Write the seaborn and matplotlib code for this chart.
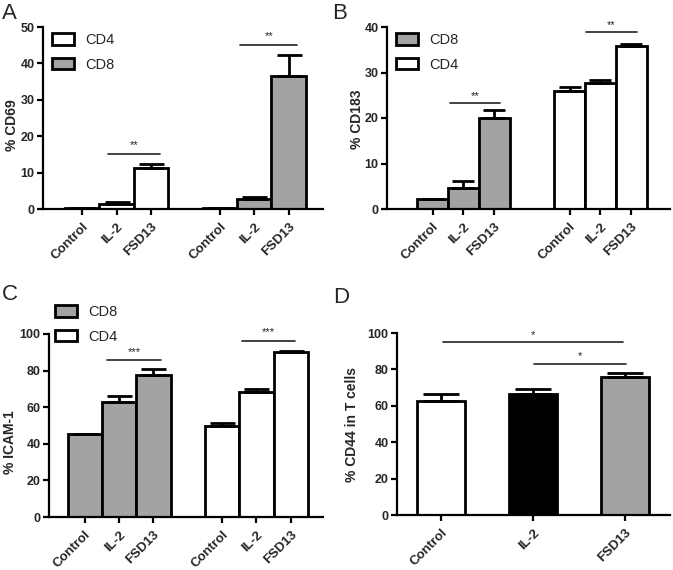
import numpy as np
import pandas as pd
import matplotlib
matplotlib.use("Agg")
import matplotlib.pyplot as plt
from matplotlib.patches import Patch
import seaborn as sns

treatments = ["Control", "IL-2", "FSD13"]

# A: % CD69 (mean, SEM)
cd69_cd4 = [0.3, 1.5, 11.2]
cd69_cd4_err = [0.1, 0.4, 1.2]
cd69_cd8 = [0.2, 2.8, 36.5]
cd69_cd8_err = [0.1, 0.4, 5.8]

# B: % CD183
cd183_cd8 = [2.2, 4.7, 20.0]
cd183_cd8_err = [0.1, 1.5, 1.7]
cd183_cd4 = [25.9, 27.6, 35.8]
cd183_cd4_err = [0.9, 0.8, 0.5]

# C: % ICAM-1
icam_cd8 = [45.2, 63.0, 77.5]
icam_cd8_err = [0.3, 3.3, 3.4]
icam_cd4 = [49.6, 68.5, 90.0]
icam_cd4_err = [2.0, 1.4, 0.9]

# D: % CD44 in T cells
cd44 = [62.7, 66.7, 75.9]
cd44_err = [4.0, 2.6, 2.1]

WHITE, GREY, BLACK = "#ffffff", "#a3a3a3", "#000000"
W, H = 673, 570

sns.set_style("ticks")
plt.rcParams["font.family"] = ["Liberation Sans", "DejaVu Sans"]

fig = plt.figure(figsize=(W / 100, H / 100), dpi=100)


def px_axes(left, top, right, bottom):
    return fig.add_axes([left / W, 1 - bottom / H, (right - left) / W, (bottom - top) / H])


def style_axes(ax, ylim, yticks, ylabel, label_xy):
    sns.despine(ax=ax)
    for s in ["left", "bottom"]:
        ax.spines[s].set_linewidth(1.6)
        ax.spines[s].set_color("black")
    ax.tick_params(width=1.6, length=4, color="black", labelsize=9, pad=2)
    ax.tick_params(axis="x", labelsize=9.5, pad=4.5)
    ax.set_ylim(*ylim)
    ax.set_yticks(yticks)
    for t in ax.get_yticklabels():
        t.set_fontweight("bold")
    ax.set_ylabel(ylabel, fontsize=10, fontweight="bold")
    ax.yaxis.set_label_coords(*label_xy)
    ax.set_xlabel("")


def grouped(ax, pos, v1, e1, n1, c1, v2, e2, n2, c2, capsize):
    df = pd.DataFrame({
        "pos": pos,
        "value": v1 + v2,
        "err": e1 + e2,
        "cell": [n1] * 3 + [n2] * 3,
    })
    sns.barplot(data=df, x="pos", y="value", hue="cell", palette={n1: c1, n2: c2},
                native_scale=True, width=1, dodge=False, errorbar=None,
                edgecolor="black", linewidth=2, legend=False, ax=ax, zorder=2)
    ax.errorbar(df["pos"], df["value"], yerr=[np.zeros(len(df)), df["err"]], fmt="none",
                ecolor="black", elinewidth=2, capsize=capsize, capthick=2, zorder=3)
    ax.set_xticks(pos)
    ax.set_xticklabels(treatments * 2, rotation=45, ha="right", rotation_mode="anchor",
                       fontweight="bold")
    handles = [Patch(facecolor=c1, edgecolor="black", linewidth=2, label=n1),
               Patch(facecolor=c2, edgecolor="black", linewidth=2, label=n2)]
    return handles


def sig(ax, x1, x2, y, ty, stars):
    ax.plot([x1, x2], [y, y], color="#222222", lw=1.2, clip_on=False)
    ax.text((x1 + x2) / 2, ty, stars, ha="center", va="center", fontsize=8,
            color="#222222", clip_on=False)


def legend(ax, handles, x, y):
    ax.legend(handles=handles, loc="upper left", bbox_to_anchor=(x / W, 1 - y / H),
              bbox_transform=fig.transFigure, frameon=False, borderaxespad=0, borderpad=0,
              handlelength=1.5, handleheight=0.8, handletextpad=0.8, labelspacing=0.75,
              fontsize=10.5)


# ---- A
axA = px_axes(43, 27, 323, 209)
posA = [0, 1, 2, 4, 5, 6]
h = grouped(axA, posA, cd69_cd4, cd69_cd4_err, "CD4", WHITE,
            cd69_cd8, cd69_cd8_err, "CD8", GREY, 9)
axA.set_xlim(-1.14, 7.0)
style_axes(axA, (0, 50), range(0, 51, 10), "% CD69", (-0.084, 0.46))
legend(axA, h, 52, 33)
sig(axA, 0.75, 2.25, 15.1, 17.5, "**")
sig(axA, 4.6, 6.25, 45.1, 47.5, "**")

# ---- B
axB = px_axes(387, 27, 670, 209)
posB = [0, 1, 2, 4.45, 5.45, 6.45]
h = grouped(axB, posB, cd183_cd8, cd183_cd8_err, "CD8", GREY,
            cd183_cd4, cd183_cd4_err, "CD4", WHITE, 8)
axB.set_xlim(-1.48, 7.71)
style_axes(axB, (0, 40), range(0, 41, 10), "% CD183", (-0.081, 0.495))
legend(axB, h, 396, 33)
sig(axB, 0.55, 2.19, 23.4, 24.9, "**")
sig(axB, 4.98, 6.63, 38.9, 40.4, "**")

# ---- C
axC = px_axes(49, 334, 323, 517)
posC = [0, 1, 2, 4, 5, 6]
h = grouped(axC, posC, icam_cd8, icam_cd8_err, "CD8", GREY,
            icam_cd4, icam_cd4_err, "CD4", WHITE, 9)
axC.set_xlim(-1.04, 6.94)
style_axes(axC, (0, 100), range(0, 101, 20), "% ICAM-1", (-0.117, 0.41))
legend(axC, h, 55, 305)
sig(axC, 0.66, 2.21, 85.6, 90.0, "***")
sig(axC, 4.57, 6.13, 96.4, 100.8, "***")

# ---- D
axD = px_axes(397, 333, 670, 515)
sns.barplot(x=treatments, y=cd44, hue=treatments, palette=[WHITE, BLACK, GREY],
            width=0.52, errorbar=None, edgecolor="black", linewidth=2, legend=False,
            ax=axD, zorder=2)
axD.errorbar(range(3), cd44, yerr=[np.zeros(3), cd44_err], fmt="none", ecolor="black",
             elinewidth=2, capsize=13, capthick=2, zorder=3)
axD.set_xticks(range(3))
axD.set_xticklabels(treatments, rotation=45, ha="right", rotation_mode="anchor",
                    fontweight="bold")
axD.set_xlim(-0.48, 2.49)
style_axes(axD, (0, 100), range(0, 101, 20), "% CD44 in T cells", (-0.139, 0.495))
sig(axD, 0.02, 1.98, 94.9, 99.0, "*")
sig(axD, 1.01, 2.01, 83.2, 87.3, "*")

for letter, x, y in [("A", 2, 3), ("B", 332, 3), ("C", 2, 284), ("D", 333, 287)]:
    fig.text(x / W, 1 - y / H, letter, fontsize=16, ha="left", va="top")

fig.savefig("out.png", dpi=100)
